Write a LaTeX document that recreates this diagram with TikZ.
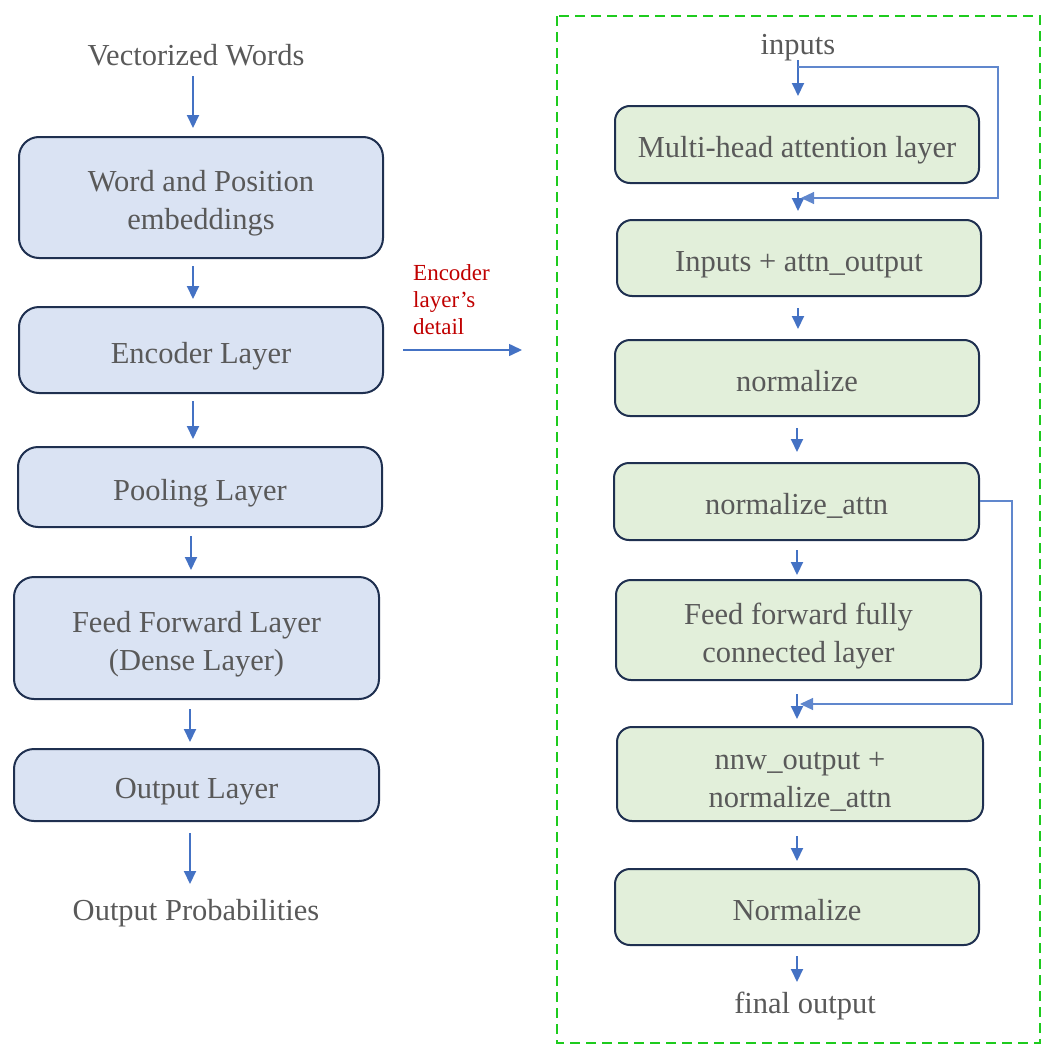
\documentclass[tikz,border=0pt]{standalone}
\usepackage{fontspec}
\setmainfont{Liberation Serif}
\usetikzlibrary{arrows.meta,calc}
\definecolor{txtgray}{HTML}{595959}
\definecolor{bluefill}{HTML}{DAE3F3}
\definecolor{greenfill}{HTML}{E2EFDA}
\definecolor{boxborder}{HTML}{1F3050}
\definecolor{arrowblue}{HTML}{4472C4}
\definecolor{dashgreen}{HTML}{1ECB1E}
\definecolor{labelred}{HTML}{C00000}
\begin{document}
\begin{tikzpicture}[x=1pt,y=-1pt,
  every node/.style={text=txtgray,font=\fontsize{30.5}{38}\selectfont,align=center,inner sep=0pt},
  onel/.style={execute at begin node={\rule[-9pt]{0pt}{44pt}}},
  twol/.style={execute at begin node={\rule{0pt}{71pt}}},
  bluebox/.style={draw=boxborder,line width=2pt,fill=bluefill,rounded corners=20pt},
  greenbox/.style={draw=boxborder,line width=2pt,fill=greenfill,rounded corners=15pt},
  arr/.style={draw=arrowblue,line width=2pt,-{Triangle[length=13pt,width=12pt]}},
  skiparr/.style={draw=arrowblue!85,line width=1.2pt,-{Triangle[length=13pt,width=12pt]}},
  gap/.style={shorten <=7pt,shorten >=7pt}]
\useasboundingbox (0,0) rectangle (1047,1044);
% dashed frame
\draw[dashgreen,line width=2pt,dash pattern=on 10pt off 6pt] (557,16) rectangle (1040,1043);
% left column
\node (vw) at (196,55) {Vectorized Words};
\node[bluebox,twol,minimum width=364pt,minimum height=121pt] (b1) at (201,197.5) {Word and Position\\embeddings};
\node[bluebox,onel,minimum width=364pt,minimum height=86pt] (b2) at (201,350) {Encoder Layer};
\node[bluebox,onel,minimum width=364pt,minimum height=80pt] (b3) at (200,487) {Pooling Layer};
\node[bluebox,twol,minimum width=365pt,minimum height=122pt] (b4) at (196.5,638) {Feed Forward Layer\\(Dense Layer)};
\node[bluebox,onel,minimum width=365pt,minimum height=72pt] (b5) at (196.5,785) {Output Layer};
\node (op) at (196,913) {Output Probabilities};
\coordinate (vwa) at (193,76);
\coordinate (b1a) at (193,128);
\draw[arr] (vwa) -- (b1a);
\draw[arr,gap] ([xshift=-8pt]b1.south) -- ([xshift=-8pt]b2.north);
\draw[arr,gap] ([xshift=-8pt]b2.south) -- ([xshift=-7pt]b3.north);
\draw[arr,shorten <=8pt,shorten >=6pt] ([xshift=-9pt]b3.south) -- ([xshift=-5.5pt]b4.north);
\draw[arr,shorten <=9pt,shorten >=6pt] ([xshift=-6.5pt]b4.south) -- ([xshift=-6.5pt]b5.north);
\coordinate (b5a) at (190,833);
\coordinate (opa) at (190,884);
\draw[arr] (b5a) -- (opa);
% middle label
\node[text=labelred,font=\fontsize{23}{27}\selectfont,align=left,anchor=north west] (lbl) at (413,264.5) {Encoder\\layer’s\\detail};
\coordinate (ma) at (403,350);
\coordinate (mb) at (522,350);
\draw[arr,line width=1.6pt] (ma) -- (mb);
% right column
\node (inp) at (798,48) {inputs};
\node[greenbox,onel,minimum width=364pt,minimum height=77pt] (g1) at (797,144.5) {Multi-head attention layer};
\node[greenbox,onel,minimum width=364pt,minimum height=76pt] (g2) at (799,258) {Inputs + attn\_output};
\node[greenbox,onel,minimum width=364pt,minimum height=76pt] (g3) at (797,378) {normalize};
\node[greenbox,onel,minimum width=365pt,minimum height=77pt] (g4) at (796.5,501.5) {normalize\_attn};
\node[greenbox,twol,minimum width=365pt,minimum height=100pt] (g5) at (798.5,630) {Feed forward fully\\connected layer};
\node[greenbox,twol,minimum width=366pt,minimum height=94pt] (g6) at (800,774) {nnw\_output +\\normalize\_attn};
\node[greenbox,onel,minimum width=364pt,minimum height=76pt] (g7) at (797,907) {Normalize};
\node (fo) at (805,1006) {final output};
\coordinate (ia) at (798,60);
\coordinate (ib) at (798,96);
\draw[arr] (ia) -- (ib);
\draw[arr,shorten <=8pt,shorten >=8pt] (798,0 |- g1.south) -- (798,0 |- g2.north);
\draw[arr,shorten <=11pt,shorten >=10pt] (798,0 |- g2.south) -- (798,0 |- g3.north);
\draw[arr,shorten <=11pt,shorten >=10pt] (797,0 |- g3.south) -- (797,0 |- g4.north);
\draw[arr,shorten <=9pt,shorten >=4pt] (797,0 |- g4.south) -- (797,0 |- g5.north);
\draw[arr,shorten <=13pt,shorten >=7pt] (797,0 |- g5.south) -- (797,0 |- g6.north);
\draw[arr,shorten <=14pt,shorten >=7pt] (797,0 |- g6.south) -- (797,0 |- g7.north);
\draw[arr,shorten <=10pt,shorten >=0pt] (797,0 |- g7.south) -- (797,982);
% skip connections
\coordinate (s1) at (798,67);
\coordinate (s1e) at (801,198);
\draw[skiparr] (s1) -- (998,67) -- (998,198) -- (s1e);
\coordinate (s2) at (g4.east |- 0,501);
\coordinate (s2e) at (800,704);
\draw[skiparr] (s2) -- (1012,501) -- (1012,704) -- (s2e);
\end{tikzpicture}
\end{document}
